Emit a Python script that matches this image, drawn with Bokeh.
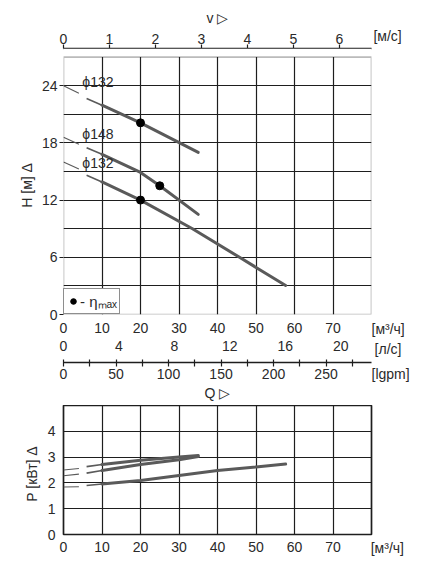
from bokeh.plotting import figure
from bokeh.models import (Range1d, LinearAxis, FixedTicker, Label, BoxAnnotation,
                          Legend, LegendItem)
from bokeh.layouts import column
from bokeh.embed import file_html
from bokeh.resources import INLINE

# ---------------- data ----------------
q_ticks = [0, 10, 20, 30, 40, 50, 60, 70]
q_grid = [10, 20, 30, 40, 50, 60, 70]
h_ticks = [0, 6, 12, 18, 24]
h_grid = [3, 6, 9, 12, 15, 18, 21, 24]
p_ticks = [0, 1, 2, 3, 4]
p_grid = [1, 2, 3, 4]
v_ticks = [0, 1, 2, 3, 4, 5, 6]
ls_ticks = [0, 4, 8, 12, 16, 20]
gpm_ticks = [0, 50, 100, 150, 200, 250]
gpm_minor = [25, 75, 125, 175, 225, 275]

# H(Q) curves
q_a = [0, 4, 6, 10, 20, 35]
h_a = [24.0, 23.2, 22.65, 21.95, 20.1, 17.0]
q_b = [0, 4, 6, 10, 20, 25, 35]
h_b = [18.6, 17.85, 17.5, 16.8, 14.9, 13.5, 10.5]
q_c = [0, 4, 6, 10, 20, 33.5, 45.5, 57.7]
h_c = [16.0, 15.25, 14.6, 13.9, 12.0, 9.0, 6.05, 3.05]
curve_names = ["ϕ132", "ϕ148", "ϕ132"]

# eta max points
eta_q = [20, 25, 20]
eta_h = [20.1, 13.5, 12.0]

# P(Q) curves
pq_a = [0, 4, 6, 10, 20, 30, 35]
p_a = [2.28, 2.34, 2.38, 2.48, 2.71, 2.90, 3.02]
pq_b = [0, 4, 6, 10, 20, 30, 35]
p_b = [2.50, 2.56, 2.63, 2.71, 2.88, 3.00, 3.06]
pq_c = [0, 4, 6, 10, 20, 30, 40, 50, 57.7]
p_c = [1.84, 1.85, 1.90, 1.96, 2.09, 2.29, 2.48, 2.62, 2.73]

# unit labels
unit_v = "[м/с]"
unit_q = "[м³/ч]"
unit_ls = "[л/с]"
unit_gpm = "[lgpm]"

# unit conversions (scale ranges)
Q_END = 80
V_PER_Q = 1 / 11.946        # m/s per m3/h (DN65)
LS_PER_Q = 1 / 3.6
GPM_PER_Q = 3.666

# ---------------- style ----------------
FONT = "Liberation Sans"
FS = "14px"
TXT = "#2a2a2a"
GRID = "#1e1e1e"
CURVE = "#5a5a5a"


def style_axis(ax, ticks, standoff, tick_in=0, tick_out=0, line=False):
    ax.ticker = FixedTicker(ticks=ticks)
    ax.major_label_text_font = FONT
    ax.major_label_text_font_size = FS
    ax.major_label_text_color = TXT
    ax.major_label_standoff = standoff
    ax.major_tick_in = tick_in
    ax.major_tick_out = tick_out
    ax.major_tick_line_color = GRID
    ax.major_tick_line_width = 1.2
    ax.minor_tick_line_color = None
    ax.axis_label_text_font = FONT
    ax.axis_label_text_font_size = FS
    ax.axis_label_text_font_style = "normal"
    ax.axis_label_text_color = TXT
    if line:
        ax.axis_line_color = GRID
        ax.axis_line_width = 1.5
    else:
        ax.axis_line_color = None


def draw_curve(p, xs, ys):
    p.line(xs[0:2], ys[0:2], line_color=CURVE, line_width=1.1)
    p.line(xs[2:4], ys[2:4], line_color=CURVE, line_width=1.6)
    p.line(xs[3:], ys[3:], line_color=CURVE, line_width=3, line_cap="round")


def unit_label(p, x, y, text):
    # placed in the right side panel so that it is not clipped to the frame
    p.add_layout(Label(x=x, y=y, text=text, text_align="left", text_baseline="middle",
                       text_font=FONT, text_font_size=FS, text_color=TXT), "right")


# ---------------- top chart: H(Q) ----------------
p1 = figure(frame_width=308, frame_height=266,
            x_range=Range1d(0, Q_END), y_range=Range1d(0, 27.9),
            min_border_left=63, min_border_right=54, min_border_top=48, min_border_bottom=91,
            toolbar_location=None, output_backend="svg", outline_line_color=None)

p1.extra_x_ranges = {
    "v": Range1d(0, Q_END * V_PER_Q),
    "ls": Range1d(0, Q_END * LS_PER_Q),
    "gpm": Range1d(0, Q_END * GPM_PER_Q),
}

style_axis(p1.xaxis[0], q_ticks, standoff=8)
style_axis(p1.yaxis[0], h_ticks, standoff=2, tick_out=4)
p1.yaxis[0].axis_label = "H [м]   Δ"
p1.yaxis[0].axis_label_standoff = 4

v_axis = LinearAxis(x_range_name="v", axis_label="v ▷")
style_axis(v_axis, v_ticks, standoff=1, tick_out=4, line=True)
v_axis.axis_label_standoff = 5
p1.add_layout(v_axis, "above")

ls_axis = LinearAxis(x_range_name="ls", axis_label=" ")
style_axis(ls_axis, ls_ticks, standoff=5)
ls_axis.axis_label_text_font_size = "4px"
ls_axis.axis_label_standoff = 1
p1.add_layout(ls_axis, "below")

gpm_axis = LinearAxis(x_range_name="gpm", axis_label="Q ▷")
style_axis(gpm_axis, gpm_ticks, standoff=2, tick_in=3, tick_out=4, line=True)
gpm_axis.ticker = FixedTicker(ticks=gpm_ticks, minor_ticks=gpm_minor)
gpm_axis.minor_tick_line_color = GRID
gpm_axis.minor_tick_line_width = 1.2
gpm_axis.minor_tick_in = 3
gpm_axis.minor_tick_out = 4
gpm_axis.axis_label_standoff = 3
p1.add_layout(gpm_axis, "below")

p1.xgrid.ticker = FixedTicker(ticks=q_grid)
p1.ygrid.ticker = FixedTicker(ticks=h_grid)
for g in (p1.xgrid[0], p1.ygrid[0]):
    g.grid_line_color = GRID
    g.grid_line_width = 1.2

for xs, ys in ((q_a, h_a), (q_b, h_b), (q_c, h_c)):
    draw_curve(p1, xs, ys)

dots = p1.scatter(eta_q, eta_h, size=8, color="black")

# strip above the frame (axis offset) and frame box
p1.add_layout(BoxAnnotation(bottom=27, fill_color="white", fill_alpha=1, line_color=None))
p1.add_layout(BoxAnnotation(left=0, right=Q_END, bottom=0, top=27, fill_alpha=0,
                            line_color=GRID, line_width=1.7))

for (lx, ly), name in zip(((4.9, 24.4), (4.9, 18.9), (4.9, 15.9)), curve_names):
    p1.add_layout(Label(x=lx, y=ly, text=name, text_baseline="middle",
                        text_font=FONT, text_font_size=FS, text_color=TXT))

legend = Legend(items=[LegendItem(label="- ηₘₐₓ", renderers=[dots])],
                location="bottom_left", margin=0, padding=2, spacing=0,
                glyph_width=14, glyph_height=14, label_standoff=0,
                label_text_font=FONT, label_text_font_size="15px", label_text_color=TXT,
                border_line_color=GRID, border_line_width=1.5, background_fill_alpha=1)
p1.add_layout(legend)

unit_label(p1, 80.5, 29.26, unit_v)
unit_label(p1, 80.0, -1.52, unit_q)
unit_label(p1, 80.8, -3.62, unit_ls)
unit_label(p1, 80.0, -6.24, unit_gpm)

# ---------------- bottom chart: P(Q) ----------------
p2 = figure(frame_width=308, frame_height=129,
            x_range=Range1d(0, Q_END), y_range=Range1d(0, 5),
            min_border_left=63, min_border_right=54, min_border_top=0, min_border_bottom=34,
            toolbar_location=None, output_backend="svg",
            outline_line_color=GRID, outline_line_width=1.7)

style_axis(p2.xaxis[0], q_ticks, standoff=7)
style_axis(p2.yaxis[0], p_ticks, standoff=8)
p2.yaxis[0].axis_label = "P [кВт]   Δ"
p2.yaxis[0].axis_label_standoff = 5

p2.xgrid.ticker = FixedTicker(ticks=q_grid)
p2.ygrid.ticker = FixedTicker(ticks=p_grid)
for g in (p2.xgrid[0], p2.ygrid[0]):
    g.grid_line_color = GRID
    g.grid_line_width = 1.2

for xs, ys in ((pq_a, p_a), (pq_b, p_b), (pq_c, p_c)):
    draw_curve(p2, xs, ys)

unit_label(p2, 79.8, -0.54, unit_q)

layout = column(p1, p2, spacing=0)
open("out.html", "w").write(file_html(layout, INLINE))
